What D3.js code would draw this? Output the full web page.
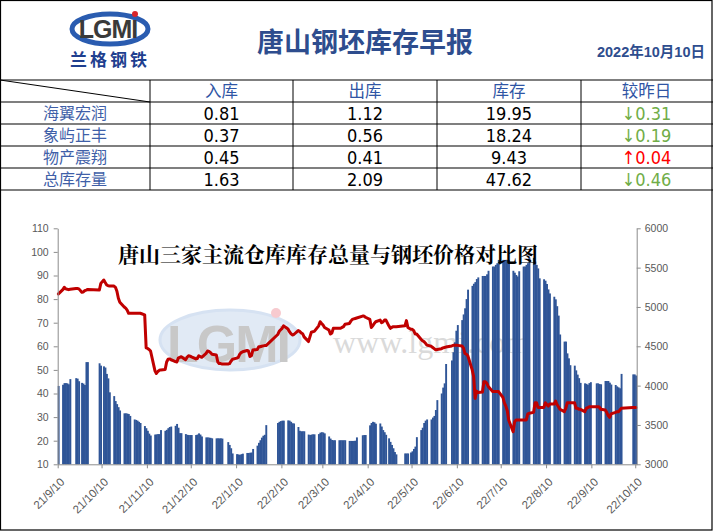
<!DOCTYPE html>
<html>
<head>
<meta charset="utf-8">
<script src="https://cdn.jsdelivr.net/npm/d3@7"></script>
<style>
body { margin: 0; background: #fff; }
svg { display: block; font-family: "Noto Sans CJK SC", sans-serif; }
</style>
</head>
<body>
<svg id="page" width="713" height="531"></svg>
<script>
// table
var tableHeads = ["入库", "出库", "库存", "较昨日"];
var rowNames = ["海翼宏润", "象屿正丰", "物产震翔", "总库存量"];
var inValues = [0.81, 0.37, 0.45, 1.63];
var outValues = [1.12, 0.56, 0.41, 2.09];
var stockNow = [19.95, 18.24, 9.43, 47.62];
var changeValues = [-0.31, -0.19, 0.04, -0.46];

// calendar of the series (weekdays, minus holidays, plus make-up days)
var firstDay = "2021-09-10", lastDay = "2022-10-10";
var holidays = ["2021-09-20", "2021-09-21", "2021-10-01", "2021-10-04", "2021-10-05", "2021-10-06", "2021-10-07",
  "2022-01-03", "2022-01-31", "2022-02-01", "2022-02-02", "2022-02-03", "2022-02-04", "2022-04-04", "2022-04-05",
  "2022-05-02", "2022-05-03", "2022-05-04", "2022-06-03", "2022-09-12",
  "2022-10-03", "2022-10-04", "2022-10-05", "2022-10-06", "2022-10-07"];
var makeupDays = ["2021-09-18", "2021-09-26", "2021-10-09", "2022-01-29", "2022-01-30", "2022-04-02", "2022-04-24",
  "2022-05-07", "2022-10-08", "2022-10-09"];

var monthKeys = ["2021-09", "2021-10", "2021-11", "2021-12", "2022-01", "2022-02", "2022-03",
  "2022-04", "2022-05", "2022-06", "2022-07", "2022-08", "2022-09", "2022-10"];

// total stock (万吨), one value per working day, month by month
var stockByMonth = [
  [43.2, 43.7, 44.4, 44.4, 44.3, 43.9, 46.1, 46.5, 46.3, 45.2, 44.5, 44.2, 43.6, 53.3, 53.3],
  [52.8, 51.8, 51.5, 51.0, 48.3, 46.4, 40.5, 38.9, 36.8, 35.5, 34.2, 32.8, 31.6, 31.6, 31.5, 31.3, 30.5],
  [29.0, 28.8, 28.5, 28.0, 27.5, 26.2, 25.3, 24.2, 23.0, 22.2, 22.6, 22.7, 22.8, 22.8, 24.5,
   24.2, 24.6, 25.3, 25.8, 26.0, 26.3, 27.1],
  [25.5, 23.2, 23.2, 22.8, 22.5, 22.4, 22.4, 22.4, 22.4, 22.6, 23.1, 22.6, 21.8, 21.4, 21.4, 21.3, 21.2, 21.0,
   21.0, 21.0, 21.0, 21.0, 20.9],
  [19.4, 18.2, 16.8, 14.6, 14.3, 14.2, 14.0, 14.3, 14.5, 14.8, 14.8, 14.9, 15.0, 16.5, 17.9, 19.1, 20.2, 21.3, 22.1,
   22.5, 26.6],
  [27.5, 28.0, 28.3, 28.5, 28.5, 28.6, 28.5, 28.0, 27.4, 27.3, 25.8, 24.2, 24.0, 24.0, 24.0, 22.6],
  [22.4, 22.6, 22.7, 22.7, 22.8, 23.4, 23.6, 23.5, 23.1, 21.8, 20.9, 20.3, 20.2, 20.2, 20.2, 20.2, 20.2, 20.2, 20.2,
   19.9, 19.9, 19.9, 19.9],
  [20.0, 21.4, 22.3, 22.4, 22.4, 26.5, 27.5, 28.0, 27.8, 27.2, 27.3, 26.0, 24.5, 23.6, 22.5, 21.0,
   19.5, 18.2, 16.8, 15.2, 14.2],
  [14.6, 14.6, 14.6, 15.0, 15.5, 16.5, 17.5, 21.5, 24.5, 25.5, 27.5, 28.5, 29.0, 29.0, 29.8, 30.5, 33.0, 37.2,
   40.0, 42.5],
  [44.3, 52.5, 54.0, 57.5, 61.7, 66.6, 69.0, 71.1, 73.5, 76.1, 80.0, 84.0, 85.6, 86.5, 87.2, 88.5, 89.2,
   89.8, 89.8, 89.8, 90.5],
  [92.0, 93.8, 93.8, 94.5, 95.2, 96.6, 96.6, 96.6, 96.6, 96.6, 96.6, 92.0, 91.2, 90.2, 89.6, 91.8,
   93.8, 93.8, 94.5, 95.2, 97.5],
  [97.5, 95.9, 94.5, 93.0, 88.8, 88.4, 87.8, 86.4, 84.1, 82.4, 81.0, 79.9, 77.0, 73.0, 65.0,
   62.0, 62.0, 57.0, 54.9, 52.0, 51.8, 49.8, 48.0],
  [46.5, 44.5, 44.3, 44.1, 43.7, 44.4, 44.8, 44.3, 44.3, 44.0, 43.9, 45.3, 45.3, 45.3, 44.6, 43.8,
   43.6, 43.0, 42.6, 42.2, 48.3],
  [48.10, 48.08, 47.62]
];

// billet price (元/吨), same days
var priceByMonth = [
  [5166, 5220, 5250, 5230, 5225, 5220, 5225, 5235, 5235, 5230, 5187, 5190, 5208, 5215, 5223],
  [5215, 5300, 5343, 5310, 5280, 5270, 5268, 5265, 5250, 5200, 5110, 5060, 5000, 4985, 4960, 4920, 4920],
  [4920, 4920, 4920, 4920, 4920, 4900, 4480, 4473, 4460, 4440, 4190, 4155, 4180, 4195, 4200,
   4206, 4300, 4335, 4340, 4330, 4305, 4300],
  [4350, 4360, 4368, 4330, 4360, 4380, 4375, 4365, 4340, 4345, 4380, 4370, 4360, 4410, 4440, 4435, 4420, 4400,
   4390, 4300, 4280, 4280, 4275],
  [4275, 4280, 4310, 4335, 4350, 4360, 4400, 4420, 4431, 4446, 4440, 4370, 4380, 4452, 4460, 4494, 4494, 4500, 4505,
   4509, 4509],
  [4650, 4690, 4710, 4728, 4760, 4720, 4686, 4660, 4644, 4650, 4700, 4690, 4670, 4660, 4620, 4560],
  [4620, 4680, 4686, 4690, 4760, 4812, 4790, 4770, 4740, 4707, 4656, 4670, 4728, 4730, 4728, 4730, 4740, 4750, 4780,
   4791, 4820, 4842, 4848],
  [4854, 4860, 4884, 4884, 4869, 4842, 4740, 4760, 4791, 4812, 4833, 4800, 4810, 4833, 4833, 4760,
   4728, 4740, 4749, 4749, 4749],
  [4760, 4827, 4740, 4716, 4716, 4700, 4656, 4656, 4590, 4570, 4560, 4540, 4515, 4500, 4485, 4470, 4455, 4460,
   4470, 4480],
  [4485, 4490, 4505, 4512, 4512, 4512, 4512, 4503, 4480, 4410, 4400, 4380, 4200, 4113, 3837, 3930, 3912,
   3920, 4050, 4050, 4030],
  [3990, 3924, 3924, 3924, 3924, 3924, 3850, 3780, 3740, 3680, 3560, 3414, 3540, 3564, 3564, 3564,
   3564, 3564, 3564, 3640, 3648],
  [3660, 3783, 3783, 3723, 3723, 3723, 3783, 3760, 3740, 3765, 3765, 3804, 3760, 3732, 3700,
   3669, 3710, 3783, 3783, 3783, 3783, 3711, 3711],
  [3699, 3699, 3669, 3711, 3720, 3732, 3732, 3732, 3732, 3725, 3700, 3690, 3660, 3620, 3597, 3640,
   3660, 3669, 3669, 3690, 3711],
  [3723, 3723, 3723]
];

// axis ticks
var stockTicks = [10, 20, 30, 40, 50, 60, 70, 80, 90, 100, 110];
var priceTicks = [3000, 3500, 4000, 4500, 5000, 5500, 6000];
var dateTicks = ["2021-09-10", "2021-10-10", "2021-11-10", "2021-12-10", "2022-01-10", "2022-02-10", "2022-03-10",
  "2022-04-10", "2022-05-10", "2022-06-10", "2022-07-10", "2022-08-10", "2022-09-10", "2022-10-10"];

// ---------------------------------------------------------------
var parse = d3.timeParse("%Y-%m-%d");
var fmtDay = d3.timeFormat("%Y-%m-%d");
var fmtMonth = d3.timeFormat("%Y-%m");

var workDays = d3.timeDay.range(parse(firstDay), d3.timeDay.offset(parse(lastDay), 1)).filter(function(d) {
  var s = fmtDay(d), w = d.getDay();
  if (makeupDays.indexOf(s) >= 0) return true;
  return w > 0 && w < 6 && holidays.indexOf(s) < 0;
});

var data = [];
monthKeys.forEach(function(m, i) {
  var days = workDays.filter(function(d) { return fmtMonth(d) === m; });
  days.forEach(function(d, j) {
    if (j < stockByMonth[i].length) {
      data.push({ date: d, stock: stockByMonth[i][j], price: priceByMonth[i][j] });
    }
  });
});

var svg = d3.select("#page");
var blue = "#2E4D8E";

// frame
svg.append("rect").attr("x", 0.5).attr("y", 0.5).attr("width", 711.5).attr("height", 529.5)
  .attr("fill", "#fff").attr("stroke", "#000").attr("stroke-width", 1.2);

// logo
var logo = svg.append("g");
logo.append("ellipse").attr("cx", 110).attr("cy", 29).attr("rx", 38).attr("ry", 15)
  .attr("fill", "#fff").attr("stroke", "#2A5CB0").attr("stroke-width", 5);
logo.append("text").attr("x", 108).attr("y", 38).attr("text-anchor", "middle")
  .attr("font-family", "Liberation Sans").attr("font-size", 25).attr("font-weight", "bold")
  .attr("fill", "#3a3a3a").attr("letter-spacing", -1).text("LGMI");
logo.append("circle").attr("cx", 135).attr("cy", 14).attr("r", 3).attr("fill", "#d8242a");
logo.append("text").attr("x", 110).attr("y", 66).attr("text-anchor", "middle")
  .attr("font-size", 17).attr("font-weight", "bold").attr("letter-spacing", 3)
  .attr("fill", "#1F3F8F").text("兰格钢铁");

svg.append("text").attr("x", 365).attr("y", 52).attr("text-anchor", "middle")
  .attr("font-size", 27).attr("font-weight", "bold").attr("fill", blue).text("唐山钢坯库存早报");
svg.append("text").attr("x", 705).attr("y", 57).attr("text-anchor", "end")
  .attr("font-family", "Liberation Sans, Noto Sans CJK SC").attr("font-size", 14.5).attr("font-weight", "bold")
  .attr("fill", blue).text("2022年10月10日");

// table grid
var rowLines = [80, 102, 124, 146, 168, 190];
var colLines = [150, 293, 437, 581];
var colMid = [221.5, 365, 509, 646.5];
rowLines.forEach(function(yy) {
  svg.append("line").attr("x1", 0).attr("x2", 713).attr("y1", yy).attr("y2", yy)
    .attr("stroke", "#000").attr("stroke-width", 1.2);
});
colLines.forEach(function(xx) {
  svg.append("line").attr("x1", xx).attr("x2", xx).attr("y1", 80).attr("y2", 190)
    .attr("stroke", "#000").attr("stroke-width", 1);
});
svg.append("line").attr("x1", 0).attr("y1", 80).attr("x2", 150).attr("y2", 102)
  .attr("stroke", "#000").attr("stroke-width", 1);

svg.selectAll(".head").data(tableHeads).enter().append("text")
  .attr("x", function(d, i) { return colMid[i]; }).attr("y", 97)
  .attr("text-anchor", "middle").attr("font-size", 16.5).attr("fill", "#2F55A4")
  .text(function(d) { return d; });

var numFont = "Liberation Sans Narrow, DejaVu Sans Condensed, sans-serif";
rowNames.forEach(function(name, i) {
  var yy = 119 + i * 22;
  svg.append("text").attr("x", 75).attr("y", yy).attr("text-anchor", "middle")
    .attr("font-size", 16).attr("fill", "#3F5FA8").text(name);
  [inValues[i], outValues[i], stockNow[i]].forEach(function(v, k) {
    svg.append("text").attr("x", colMid[k]).attr("y", yy + 1).attr("text-anchor", "middle")
      .attr("font-family", numFont).attr("font-size", 18).attr("fill", "#000").text(v.toFixed(2));
  });
  var c = changeValues[i];
  svg.append("text").attr("x", colMid[3]).attr("y", yy + 1).attr("text-anchor", "middle")
    .attr("font-family", numFont).attr("font-size", 18)
    .attr("fill", c < 0 ? "#70AD47" : "#FF0000")
    .text((c < 0 ? "↓" : "↑") + Math.abs(c).toFixed(2));
});

// ---------------- chart ----------------
var x = d3.scaleTime().domain([parse(firstDay), d3.timeDay.offset(parse(lastDay), 1)]).range([57.7, 636.7]);
var yL = d3.scaleLinear().domain([10, 110]).range([464.3, 228.3]);
var yR = d3.scaleLinear().domain([3000, 6000]).range([464.3, 228.3]);
var dw = x(parse("2021-09-11")) - x(parse("2021-09-10"));

// watermark
var wm = svg.append("g").attr("opacity", 0.55);
wm.append("ellipse").attr("cx", 230).attr("cy", 340).attr("rx", 70).attr("ry", 30)
  .attr("fill", "#C9D9EE").attr("stroke", "#B5CBE8").attr("stroke-width", 3);
wm.append("text").attr("x", 228).attr("y", 362).attr("text-anchor", "middle")
  .attr("font-family", "Liberation Sans").attr("font-size", 52).attr("font-weight", "bold")
  .attr("letter-spacing", -2).attr("fill", "#9C9C9C").text("LGMI");
wm.append("circle").attr("cx", 276).attr("cy", 313).attr("r", 5).attr("fill", "#F2A0A8");
wm.append("text").attr("x", 333).attr("y", 353)
  .attr("font-family", "Liberation Serif").attr("font-size", 32).attr("fill", "#BDBDBD").text("www.lgmi.com");

// stock bars (slightly widened so neighbouring days join without seams)
var g = svg.append("g");
g.selectAll("rect.bar").data(data).enter().append("rect").attr("class", "bar")
  .attr("x", function(d) { return x(d.date); })
  .attr("y", function(d) { return yL(d.stock); })
  .attr("width", dw + 0.45)
  .attr("height", function(d) { return yL(10) - yL(d.stock); })
  .attr("fill", "#2F5597");

// price line
var line = d3.line()
  .x(function(d) { return x(d.date) + dw / 2; })
  .y(function(d) { return yR(d.price); });
g.append("path").datum(data).attr("d", line)
  .attr("fill", "none").attr("stroke", "#C00000").attr("stroke-width", 3)
  .attr("stroke-linejoin", "round").attr("stroke-linecap", "round");

// axes
function styleAxis(sel) {
  sel.select(".domain").attr("stroke", "#8C8C8C");
  sel.selectAll(".tick line").attr("stroke", "#8C8C8C");
  sel.selectAll(".tick text").attr("fill", "#595959").attr("font-size", 10.5)
    .attr("font-family", "Liberation Sans, sans-serif");
}
var leftAxis = d3.axisLeft(yL).tickValues(stockTicks).tickSize(4).tickSizeOuter(0).tickPadding(5);
svg.append("g").attr("transform", "translate(57.7,0)").call(leftAxis).call(styleAxis);

var rightAxis = d3.axisRight(yR).tickValues(priceTicks).tickSize(4).tickSizeOuter(0).tickPadding(4)
  .tickFormat(d3.format("d"));
svg.append("g").attr("transform", "translate(636.7,0)").call(rightAxis).call(styleAxis);

var bottomAxis = d3.axisBottom(x).tickValues(dateTicks.map(parse)).tickSize(4).tickSizeOuter(0)
  .tickFormat(d3.timeFormat("%y/%-m/%-d"));
var xg = svg.append("g").attr("transform", "translate(0,464.3)").call(bottomAxis).call(styleAxis);
xg.selectAll(".tick text").attr("font-size", 11.5).attr("x", -8).attr("y", 14).attr("dy", "0.35em")
  .attr("transform", "rotate(-45)").style("text-anchor", "end");

// chart title
svg.append("text").attr("x", 118).attr("y", 262)
  .attr("font-family", "Noto Serif CJK SC, Noto Sans CJK SC, serif")
  .attr("font-size", 21).attr("font-weight", "bold").attr("fill", "#000")
  .text("唐山三家主流仓库库存总量与钢坯价格对比图");
</script>
</body>
</html>
